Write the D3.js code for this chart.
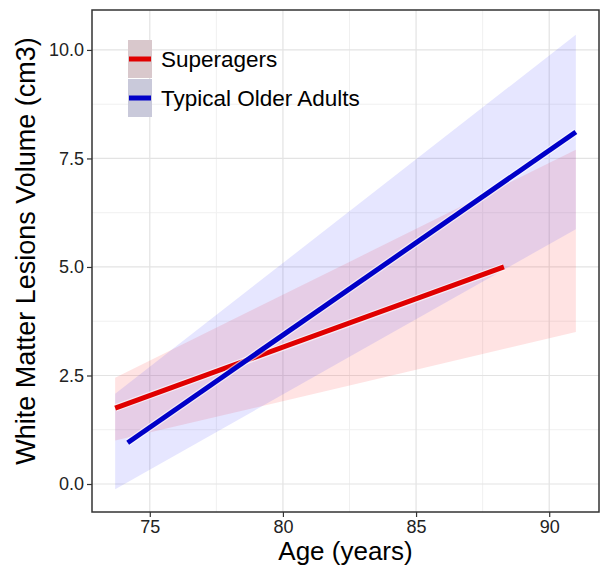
<!DOCTYPE html>
<html>
<head>
<meta charset="utf-8">
<script src="https://cdn.jsdelivr.net/npm/d3@7"></script>
<style>
  body { margin: 0; background: #fff; }
  text { font-family: "Liberation Sans", Arial, sans-serif; }
</style>
</head>
<body>
<script>
// fitted lines (age, volume)
var superX = [73.7, 88.3];
var superY = [1.75, 5.0];
var typicalX = [74.17, 91.0];
var typicalY = [0.95, 8.11];

// confidence bands
var bandX = [73.7, 82.7, 91];
var superLow = [1.0, 2.3, 3.5];
var superHigh = [2.45, 5.18, 7.7];
var typicalLow = [-0.12, 3.0, 5.87];
var typicalHigh = [2.08, 6.38, 10.35];

var xTicks = [75, 80, 85, 90];
var xMinor = [77.5, 82.5, 87.5];
var yTicks = [0, 2.5, 5, 7.5, 10];
var yMinor = [1.25, 3.75, 6.25, 8.75];

var groups = ["Superagers", "Typical Older Adults"];
var lineColors = ["#e00000", "#0000c8"];
var bandColors = ["rgba(255,60,60,0.14)", "rgba(60,60,255,0.13)"];
var keyColors = ["#d9c8cc", "#c9c9da"];

var W = 602, H = 569;
var pL = 92, pT = 10, pR = 599, pB = 512;

var svg = d3.select("body").append("svg")
  .attr("width", W)
  .attr("height", H);

var x = d3.scaleLinear().domain([72.83, 91.87]).range([pL, pR]);
var y = d3.scaleLinear().domain([-0.645, 10.92]).range([pB, pT]);

// grid
var grid = svg.append("g");
grid.selectAll(".vmin").data(xMinor).enter().append("line")
  .attr("x1", function(d) { return x(d); }).attr("x2", function(d) { return x(d); })
  .attr("y1", pT).attr("y2", pB)
  .attr("stroke", "#f0f0f0").attr("stroke-width", 1);
grid.selectAll(".hmin").data(yMinor).enter().append("line")
  .attr("x1", pL).attr("x2", pR)
  .attr("y1", function(d) { return y(d); }).attr("y2", function(d) { return y(d); })
  .attr("stroke", "#f0f0f0").attr("stroke-width", 1);
grid.selectAll(".vmaj").data(xTicks).enter().append("line")
  .attr("x1", function(d) { return x(d); }).attr("x2", function(d) { return x(d); })
  .attr("y1", pT).attr("y2", pB)
  .attr("stroke", "#e3e3e3").attr("stroke-width", 1.2);
grid.selectAll(".hmaj").data(yTicks).enter().append("line")
  .attr("x1", pL).attr("x2", pR)
  .attr("y1", function(d) { return y(d); }).attr("y2", function(d) { return y(d); })
  .attr("stroke", "#e3e3e3").attr("stroke-width", 1.2);

// bands
var bands = [
  { low: superLow, high: superHigh },
  { low: typicalLow, high: typicalHigh }
];
var area = d3.area()
  .x(function(d) { return x(d.x); })
  .y0(function(d) { return y(d.lo); })
  .y1(function(d) { return y(d.hi); });

bands.forEach(function(b, i) {
  var pts = bandX.map(function(v, j) { return { x: v, lo: b.low[j], hi: b.high[j] }; });
  svg.append("path")
    .datum(pts)
    .attr("d", area)
    .attr("fill", bandColors[i]);
});

// lines (with a faint white halo like the original)
var line = d3.line()
  .x(function(d) { return x(d[0]); })
  .y(function(d) { return y(d[1]); });
var lineData = [d3.zip(superX, superY), d3.zip(typicalX, typicalY)];
lineData.forEach(function(ld, i) {
  svg.append("path")
    .datum(ld)
    .attr("d", line)
    .attr("fill", "none")
    .attr("stroke", "#fff")
    .attr("stroke-opacity", 0.6)
    .attr("stroke-width", 7.5);
  svg.append("path")
    .datum(ld)
    .attr("d", line)
    .attr("fill", "none")
    .attr("stroke", lineColors[i])
    .attr("stroke-width", 5);
});

// panel border
svg.append("rect")
  .attr("x", pL).attr("y", pT)
  .attr("width", pR - pL).attr("height", pB - pT)
  .attr("fill", "none").attr("stroke", "#333").attr("stroke-width", 1.5);

// axes
var xAxis = svg.append("g")
  .attr("transform", "translate(0," + pB + ")")
  .call(d3.axisBottom(x).tickValues(xTicks).tickSize(5).tickPadding(3).tickFormat(d3.format("d")));
var yAxis = svg.append("g")
  .attr("transform", "translate(" + pL + ",0)")
  .call(d3.axisLeft(y).tickValues(yTicks).tickSize(5).tickPadding(3).tickFormat(d3.format(".1f")));
[xAxis, yAxis].forEach(function(a) {
  a.select(".domain").remove();
  a.selectAll(".tick line").attr("stroke", "#333").attr("stroke-width", 1.2);
  a.selectAll(".tick text")
    .attr("font-family", "Liberation Sans, Arial, sans-serif")
    .attr("font-size", 18)
    .attr("fill", "#222");
});

// axis titles
svg.append("text")
  .attr("x", (pL + pR) / 2)
  .attr("y", 560)
  .attr("text-anchor", "middle")
  .attr("font-size", 26)
  .attr("fill", "#000")
  .text("Age (years)");
svg.append("text")
  .attr("transform", "translate(35,251) rotate(-90)")
  .attr("text-anchor", "middle")
  .attr("font-size", 27)
  .attr("fill", "#000")
  .text("White Matter Lesions Volume (cm3)");

// legend
var legend = svg.append("g").attr("transform", "translate(128,40)");
groups.forEach(function(g, i) {
  var row = legend.append("g").attr("transform", "translate(0," + (i * 39) + ")");
  row.append("rect")
    .attr("width", 24).attr("height", 38)
    .attr("fill", keyColors[i]);
  row.append("line")
    .attr("x1", 1).attr("x2", 23)
    .attr("y1", 19).attr("y2", 19)
    .attr("stroke", lineColors[i]).attr("stroke-width", 5);
  row.append("text")
    .attr("x", 33).attr("y", 19)
    .attr("dy", "0.35em")
    .attr("font-size", 22.5)
    .attr("fill", "#000")
    .text(g);
});
</script>
</body>
</html>
